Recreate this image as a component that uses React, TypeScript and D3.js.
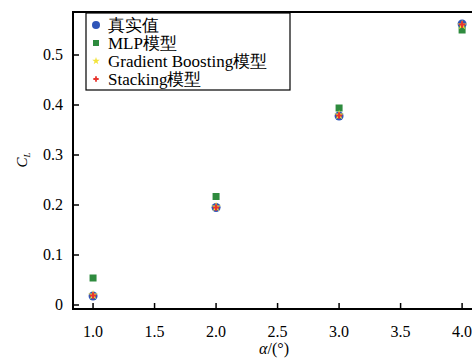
import { useEffect, useRef } from "react";
import * as d3 from "d3";

const alpha = [1, 2, 3, 4];
const trueVals = [0.018, 0.195, 0.378, 0.562];
const mlpVals = [0.054, 0.217, 0.394, 0.55];
const gbVals = [0.02, 0.196, 0.38, 0.56];
const stackVals = [0.019, 0.195, 0.379, 0.561];
const xTicks = [1.0, 1.5, 2.0, 2.5, 3.0, 3.5, 4.0];
const yTicks = [0, 0.1, 0.2, 0.3, 0.4, 0.5];
const legendLabels = ["真实值", "MLP模型", "Gradient Boosting模型", "Stacking模型"];

const W = 472;
const H = 359;
const serif = '"Liberation Serif"';

function Chart() {
    const ref = useRef<SVGSVGElement | null>(null);

    useEffect(() => {
        if (!ref.current) return;
        const svg = d3.select(ref.current);
        svg.selectAll("*").remove();

        const left = 73, top = 12, right = 476, bottom = 309;
        const x = d3.scaleLinear().domain([0.837, 4.113]).range([left, right]);
        const y = d3.scaleLinear().domain([-0.008, 0.586]).range([bottom, top]);

        // frame
        svg.append("rect")
            .attr("x", left).attr("y", top)
            .attr("width", right - left).attr("height", bottom - top)
            .attr("fill", "none").attr("stroke", "#000").attr("stroke-width", 2);

        // x ticks (inward)
        const gx = svg.append("g");
        xTicks.forEach((t) => {
            gx.append("line")
                .attr("x1", x(t)).attr("x2", x(t))
                .attr("y1", bottom).attr("y2", bottom - 6)
                .attr("stroke", "#000").attr("stroke-width", 1.5);
            gx.append("text")
                .attr("x", x(t)).attr("y", bottom + 28)
                .attr("text-anchor", "middle")
                .style("font-family", serif).style("font-size", "16px")
                .text(d3.format(".1f")(t));
        });

        const gy = svg.append("g");
        yTicks.forEach((t) => {
            gy.append("line")
                .attr("x1", left).attr("x2", left + 6)
                .attr("y1", y(t)).attr("y2", y(t))
                .attr("stroke", "#000").attr("stroke-width", 1.5);
            gy.append("text")
                .attr("x", left - 10).attr("y", y(t) + 5)
                .attr("text-anchor", "end")
                .style("font-family", serif).style("font-size", "16px")
                .text(t === 0 ? "0" : d3.format(".1f")(t));
        });

        // axis titles
        const xt = svg.append("text")
            .attr("x", 274).attr("y", 354)
            .attr("text-anchor", "middle")
            .style("font-family", serif).style("font-size", "16px");
        xt.append("tspan").style("font-style", "italic").text("α");
        xt.append("tspan").text("/(°)");

        const yt = svg.append("text")
            .attr("transform", "translate(27,160) rotate(-90)")
            .attr("text-anchor", "middle")
            .style("font-family", serif).style("font-size", "15px");
        yt.append("tspan").style("font-style", "italic").text("C");
        yt.append("tspan").style("font-style", "italic").style("font-size", "9px").attr("dy", 3).text("L");

        const star = d3.symbol().type(d3.symbolStar).size(30);
        const cross = d3.symbol().type(d3.symbolCross).size(22);

        const pts = svg.append("g");
        // true values
        pts.selectAll("circle.t").data(alpha).join("circle")
            .attr("cx", (d) => x(d)).attr("cy", (_, i) => y(trueVals[i]))
            .attr("r", 4.5).attr("fill", "#2f55b8");
        // MLP
        pts.selectAll("rect.m").data(alpha).join("rect")
            .attr("x", (d) => x(d) - 3.5).attr("y", (_, i) => y(mlpVals[i]) - 3.5)
            .attr("width", 7).attr("height", 7).attr("fill", "#2e8b3e");
        // GB
        pts.selectAll("path.g").data(alpha).join("path")
            .attr("d", star)
            .attr("transform", (d, i) => `translate(${x(d)},${y(gbVals[i])})`)
            .attr("fill", "#f2e33a");
        // stacking
        pts.selectAll("path.s").data(alpha).join("path")
            .attr("class", "s")
            .attr("d", cross)
            .attr("transform", (d, i) => `translate(${x(d)},${y(stackVals[i])})`)
            .attr("fill", "#e8352e");

        // legend
        const lg = svg.append("g");
        lg.append("rect")
            .attr("x", 86).attr("y", 13).attr("width", 204).attr("height", 77)
            .attr("fill", "#fff").attr("stroke", "#000").attr("stroke-width", 1.2);
        legendLabels.forEach((lab, i) => {
            const cy = 25 + i * 18;
            const mx = 96;
            if (i === 0) lg.append("circle").attr("cx", mx).attr("cy", cy).attr("r", 4).attr("fill", "#2f55b8");
            if (i === 1) lg.append("rect").attr("x", mx - 3).attr("y", cy - 3).attr("width", 6).attr("height", 6).attr("fill", "#2e8b3e");
            if (i === 2) lg.append("path").attr("d", d3.symbol().type(d3.symbolStar).size(18)).attr("transform", `translate(${mx},${cy})`).attr("fill", "#f2e33a");
            if (i === 3) lg.append("path").attr("d", d3.symbol().type(d3.symbolCross).size(16)).attr("transform", `translate(${mx},${cy})`).attr("fill", "#e8352e");
            lg.append("text")
                .attr("x", 108).attr("y", cy + 6)
                .style("font-family", serif).style("font-size", "17px")
                .text(lab);
        });
    }, []);

    return <svg ref={ref} width={W} height={H} style={{ display: "block" }} />;
}

export default function App() {
    return (
        <div style={{ position: "absolute", left: 0, top: 0 }}>
            <Chart />
        </div>
    );
}
